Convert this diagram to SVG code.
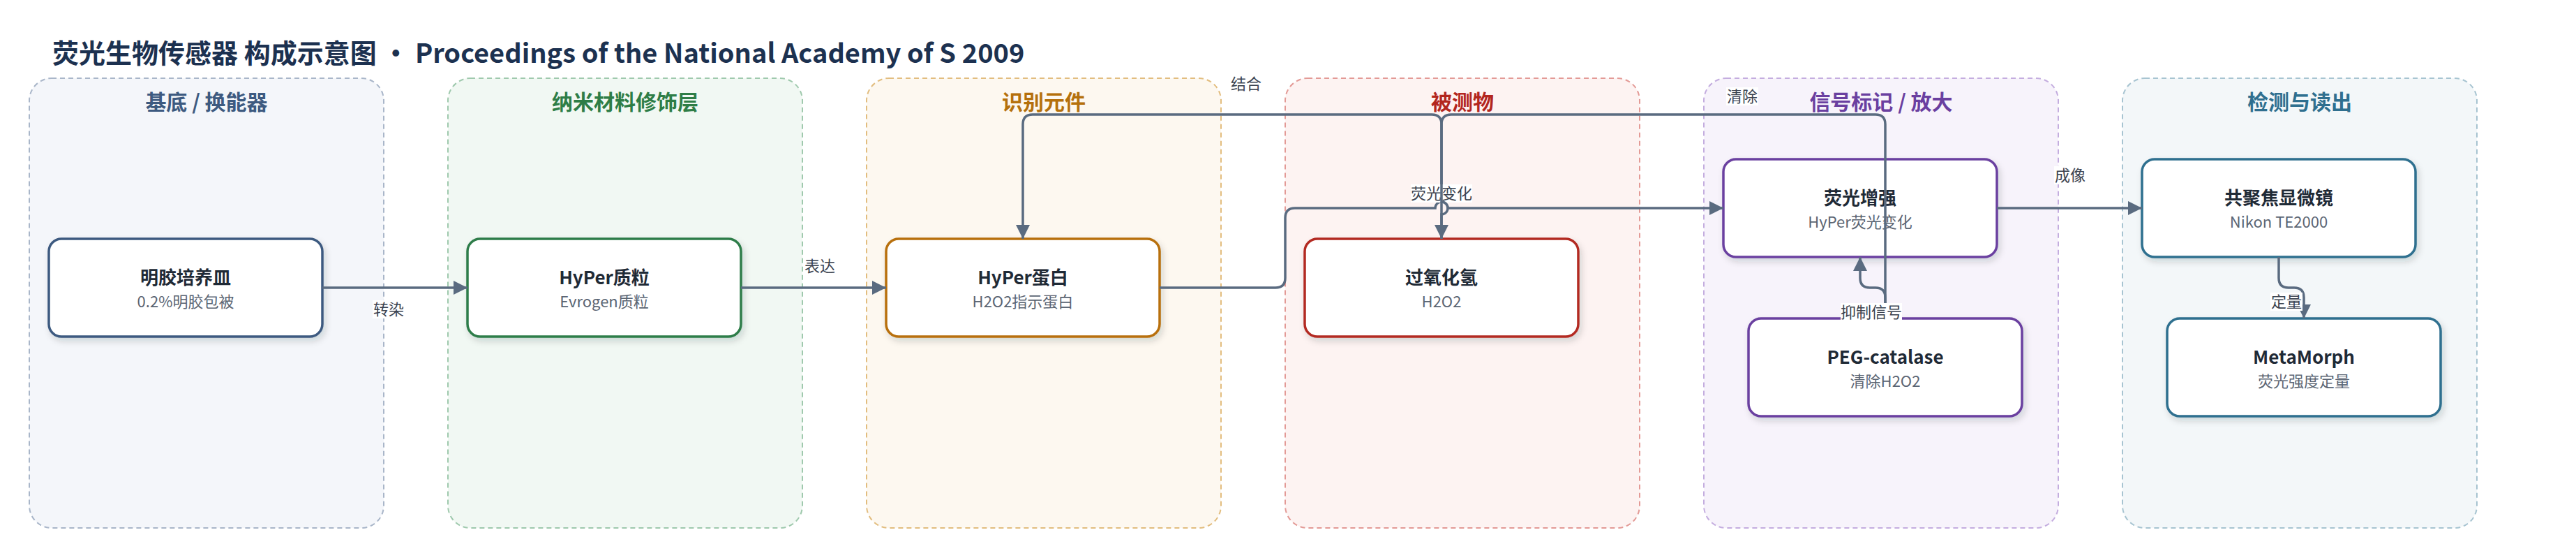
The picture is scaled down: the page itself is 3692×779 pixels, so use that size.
<svg xmlns="http://www.w3.org/2000/svg" width="3692" height="779" viewBox="0 0 3692 779">
<style>
text{font-family:"Noto Sans CJK SC","Noto Sans",sans-serif}
.title{font-size:38px;font-weight:700;fill:#1c3150}
.pt{font-size:30px;font-weight:700;text-anchor:middle}
.panel{stroke-width:2;stroke-dasharray:7 5}
.node{fill:#fff;stroke-width:3.5;filter:url(#sh)}
.nt{font-size:26px;font-weight:700;fill:#1f2a36;text-anchor:middle}
.ns{font-size:22px;fill:#5b6573;text-anchor:middle}
.edge{fill:none;stroke:#5a6b80;stroke-width:3.5}
.lbg{fill:#fff}
.lt{font-size:22px;fill:#3b4350;text-anchor:middle}
</style>
<defs>
<filter id="sh" x="-10%" y="-20%" width="125%" height="150%">
<feDropShadow dx="3" dy="5" stdDeviation="5" flood-color="#1f2a36" flood-opacity="0.16"/>
</filter>
<marker id="ar" markerUnits="userSpaceOnUse" markerWidth="20" markerHeight="20" refX="20" refY="10" orient="auto">
<path d="M0,0 L20,10 L0,20 Z" fill="#5a6b80"/>
</marker>
</defs>
<rect width="3692" height="779" fill="#fff"/>
<text class="title" x="75" y="90">荧光生物传感器 构成示意图 · Proceedings of the National Academy of S 2009</text>

<g id="panels">
<g id="panel-substrate"><rect class="panel" x="42" y="112" width="508" height="644" rx="32" fill="#f4f6fa" stroke="#a9b6c9"/><text class="pt" x="296" y="157" fill="#3d5a80">基底 / 换能器</text></g>
<g id="panel-nano"><rect class="panel" x="642" y="112" width="508" height="644" rx="32" fill="#f1f8f3" stroke="#9fc9ad"/><text class="pt" x="896" y="157" fill="#2e7d46">纳米材料修饰层</text></g>
<g id="panel-recog"><rect class="panel" x="1242" y="112" width="508" height="644" rx="32" fill="#fdf8f0" stroke="#e2bd7f"/><text class="pt" x="1496" y="157" fill="#b5700c">识别元件</text></g>
<g id="panel-analyte"><rect class="panel" x="1842" y="112" width="508" height="644" rx="32" fill="#fdf3f2" stroke="#e39a96"/><text class="pt" x="2096" y="157" fill="#b3261e">被测物</text></g>
<g id="panel-signal"><rect class="panel" x="2442" y="112" width="508" height="644" rx="32" fill="#f7f3fb" stroke="#c4addf"/><text class="pt" x="2696" y="157" fill="#6a3fa0">信号标记 / 放大</text></g>
<g id="panel-detect"><rect class="panel" x="3042" y="112" width="508" height="644" rx="32" fill="#f3f7f9" stroke="#a7c4d1"/><text class="pt" x="3296" y="157" fill="#2f6f8f">检测与读出</text></g>
</g>

<g id="node-dish"><rect class="node" x="70" y="342" width="392" height="140" rx="18" stroke="#3d5a80"/><text class="nt" x="266" y="407">明胶培养皿</text><text class="ns" x="266" y="440">0.2%明胶包被</text></g>
<g id="node-plasmid"><rect class="node" x="670" y="342" width="392" height="140" rx="18" stroke="#2e7d4a"/><text class="nt" x="866" y="407">HyPer质粒</text><text class="ns" x="866" y="440">Evrogen质粒</text></g>
<g id="node-protein"><rect class="node" x="1270" y="342" width="392" height="140" rx="18" stroke="#b8700c"/><text class="nt" x="1466" y="407">HyPer蛋白</text><text class="ns" x="1466" y="440">H2O2指示蛋白</text></g>
<g id="node-h2o2"><rect class="node" x="1870" y="342" width="392" height="140" rx="18" stroke="#b32a22"/><text class="nt" x="2066" y="407">过氧化氢</text><text class="ns" x="2066" y="440">H2O2</text></g>
<g id="node-enhance"><rect class="node" x="2470" y="228" width="392" height="140" rx="18" stroke="#6b40a0"/><text class="nt" x="2666" y="293">荧光增强</text><text class="ns" x="2666" y="326">HyPer荧光变化</text></g>
<g id="node-peg"><rect class="node" x="2506" y="456" width="392" height="140" rx="18" stroke="#6b40a0"/><text class="nt" x="2702" y="521">PEG-catalase</text><text class="ns" x="2702" y="554">清除H2O2</text></g>
<g id="node-confocal"><rect class="node" x="3070" y="228" width="392" height="140" rx="18" stroke="#2f6f8f"/><text class="nt" x="3266" y="293">共聚焦显微镜</text><text class="ns" x="3266" y="326">Nikon TE2000</text></g>
<g id="node-metamorph"><rect class="node" x="3106" y="456" width="392" height="140" rx="18" stroke="#2f6f8f"/><text class="nt" x="3302" y="521">MetaMorph</text><text class="ns" x="3302" y="554">荧光强度定量</text></g>

<g id="connectors">
<path class="edge" marker-end="url(#ar)" d="M462,412 L670,412"/>
<rect class="lbg" x="534" y="430" width="46" height="26"/><text class="lt" x="557" y="451">转染</text>
<path class="edge" marker-end="url(#ar)" d="M1062,412 L1270,412"/>
<rect class="lbg" x="1152" y="368" width="46" height="26"/><text class="lt" x="1175" y="389">表达</text>
<path class="edge" marker-end="url(#ar)" d="M2066,342 L2066,178 Q2066,164 2052,164 L1480,164 Q1466,164 1466,178 L1466,342"/>
<rect class="lbg" x="1763" y="107" width="46" height="26"/><text class="lt" x="1786" y="128">结合</text>
<path class="edge" marker-end="url(#ar)" d="M1662,412 L1828,412 Q1842,412 1842,398 L1842,312 Q1842,298 1856,298 L2057,298 A9,9 0 0 1 2075,298 L2470,298"/>
<rect class="lbg" x="2022" y="264" width="88" height="26"/><text class="lt" x="2066" y="285">荧光变化</text>
<path class="edge" marker-end="url(#ar)" d="M2702,456 L2702,178 Q2702,164 2688,164 L2080,164 Q2066,164 2066,178 L2066,289 A9,9 0 0 1 2066,307 L2066,342"/>
<rect class="lbg" x="2474" y="125" width="46" height="26"/><text class="lt" x="2497" y="146">清除</text>
<path class="edge" marker-end="url(#ar)" d="M2702,456 L2702,426 Q2702,412 2688,412 L2680,412 Q2666,412 2666,398 L2666,368"/>
<rect class="lbg" x="2638" y="434" width="88" height="26"/><text class="lt" x="2682" y="455">抑制信号</text>
<path class="edge" marker-end="url(#ar)" d="M2862,298 L3070,298"/>
<rect class="lbg" x="2944" y="238" width="46" height="26"/><text class="lt" x="2967" y="259">成像</text>
<path class="edge" marker-end="url(#ar)" d="M3266,368 L3266,398 Q3266,412 3280,412 L3288,412 Q3302,412 3302,426 L3302,456"/>
<rect class="lbg" x="3254" y="419" width="46" height="26"/><text class="lt" x="3277" y="440">定量</text>
</g>
</svg>
